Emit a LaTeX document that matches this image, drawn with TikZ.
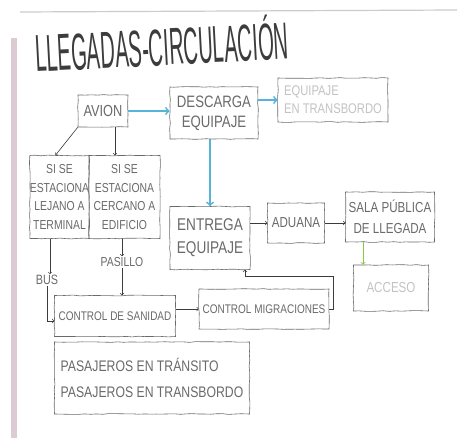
\documentclass[tikz,border=0pt]{standalone}
\usepackage{fontspec}
\newfontfamily\manofont[FakeStretch=0.8]{Liberation Sans}
\newfontfamily\titulofont[FakeStretch=0.39]{Liberation Sans}
\newcommand{\mano}[2]{\manofont\fontsize{#1}{#2}\selectfont}
\usetikzlibrary{decorations.pathmorphing}
\definecolor{lapiz}{HTML}{6A6A6A}
\definecolor{grafito}{HTML}{3C3C3C}
\definecolor{celeste}{HTML}{56B4D9}
\definecolor{verde}{HTML}{8CC63F}
\definecolor{borde}{HTML}{DCCBD3}
\begin{document}
\begin{tikzpicture}[x=1pt,y=-1pt,
    caja/.style={draw=lapiz, line width=0.6pt, text=lapiz, align=center, inner sep=0pt,
        decorate, decoration={random steps, segment length=6pt, amplitude=0.4pt}},
    tenue/.style={caja, text=lapiz!40},
    rotulo/.style={text=lapiz, inner sep=1pt},
    flecha/.style={->, draw=grafito, line width=0.6pt},
    azul/.style={->, draw=celeste, line width=1.8pt},
    verdeflecha/.style={->, draw=verde, line width=0.8pt}]
    \pgfmathsetseed{11}
    % Decoration
    \useasboundingbox (0,0) rectangle (457,438);
    \fill[white] (0,0) rectangle (457,438);
    \fill[borde] (11,38) rectangle (17,438);
    \draw[gray!40, line width=1.2pt] (20,12) -- (457,10);
    % Title
    \node[anchor=base west, rotate=3, inner sep=0pt, text=grafito,
        font=\titulofont\fontsize{52}{52}\selectfont] (titulo) at (36,72) {LLEGADAS-CIRCULACIÓN};
    % Cajas
    \node[caja, minimum width=50pt, minimum height=32pt, font=\mano{16}{20}] (avion) at (103,111) {AVION};
    \node[caja, minimum width=88pt, minimum height=52pt, font=\mano{16.5}{20}] (descarga) at (214,113) {DESCARGA\\EQUIPAJE};
    \node[tenue, minimum width=110pt, minimum height=44pt, align=left, font=\mano{14}{18}] (transbordo) at (333,100) {EQUIPAJE\\EN TRANSBORDO};
    \node[caja, minimum width=59pt, minimum height=83pt, font=\mano{13}{18.5}] (lejano) at (59.5,197) {SI SE\\ESTACIONA\\LEJANO A\\TERMINAL};
    \node[caja, minimum width=71pt, minimum height=83pt, font=\mano{13}{18.5}] (cercano) at (124.5,197) {SI SE\\ESTACIONA\\CERCANO A\\EDIFICIO};
    \node[caja, minimum width=80pt, minimum height=63pt, font=\mano{17}{23}] (entrega) at (210,238) {ENTREGA\\EQUIPAJE};
    \node[caja, minimum width=57pt, minimum height=40pt, font=\mano{14.5}{20}] (aduana) at (296,223) {ADUANA};
    \node[caja, minimum width=89pt, minimum height=50pt, font=\mano{14.5}{21}] (sala) at (390,217) {SALA PÚBLICA\\DE LLEGADA};
    \node[tenue, minimum width=75pt, minimum height=46pt, font=\mano{14.5}{20}] (acceso) at (391,288) {ACCESO};
    \node[rotulo, font=\mano{13.5}{16}] (bus) at (47,280) {BUS};
    \node[rotulo, font=\mano{13}{16}] (pasillo) at (122,262) {PASILLO};
    \node[caja, minimum width=121pt, minimum height=41pt, font=\mano{12.5}{16}] (sanidad) at (115,316) {CONTROL DE SANIDAD};
    \node[caja, minimum width=130pt, minimum height=40pt, font=\mano{12.5}{16}] (migracion) at (264,309) {CONTROL MIGRACIONES};
    \node[caja, minimum width=195pt, minimum height=72pt, align=left, font=\mano{15.3}{26}] (pasajeros) at (152,378) {PASAJEROS EN TRÁNSITO\\PASAJEROS EN TRANSBORDO};
    % Coordinate
    \coordinate (retorno) at (333,276);
    % Linee
    \draw[azul] (avion.east) -- (avion.east -| descarga.west); % avion a descarga
    \draw[azul] (descarga.east |- transbordo.west) -- (transbordo.west);
    \draw[azul] (entrega.north |- descarga.south) -- (entrega.north);
    \draw[flecha] (avion.south west) -- ([xshift=-4pt]lejano.north);
    \draw[flecha] ([xshift=12pt]avion.south) -- ([xshift=12pt]avion.south |- cercano.north);
    \draw[flecha] ([xshift=3pt]bus |- lejano.south) -- ([xshift=3pt]bus.north);
    \draw[flecha] (pasillo |- cercano.south) -- (pasillo.north);
    \draw[flecha] (pasillo.south) -- (pasillo.south |- sanidad.north);
    \draw[flecha] (bus.south) |- ([yshift=-5pt]sanidad.west);
    \draw[flecha] (sanidad.east |- migracion.east) -- (migracion.west);
    \draw[flecha] (migracion.east) -| (retorno) -| ([xshift=35pt]entrega.south); % vuelta a entrega
    \draw[flecha] (entrega.east |- aduana.west) -- (aduana.west);
    \draw[flecha] (aduana.east) -- (aduana.east -| sala.west);
    \draw[verdeflecha] ([xshift=-27pt]sala.south) -- ([xshift=-27pt]sala.south |- acceso.north);
\end{tikzpicture}
\end{document}
